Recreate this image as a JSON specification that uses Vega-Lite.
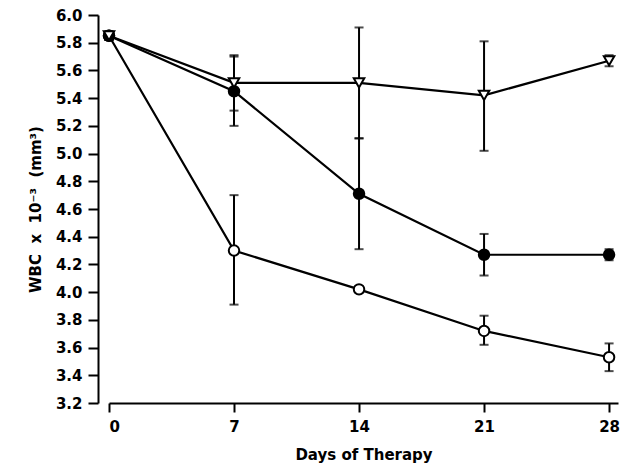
{
  "$schema": "https://vega.github.io/schema/vega-lite/v6.json",
  "width": 509,
  "height": 388,
  "autosize": "none",
  "padding": {"left": 109, "top": 15, "right": 7, "bottom": 64},
  "background": "white",
  "config": {"view": {"stroke": null}, "font": "DejaVu Sans"},
  "data": {"values": [
    {"day": 0, "group": "A", "mean": 5.85, "lo": 5.82, "hi": 5.88},
    {"day": 7, "group": "A", "mean": 5.51, "lo": 5.31, "hi": 5.71},
    {"day": 14, "group": "A", "mean": 5.51, "lo": 5.11, "hi": 5.91},
    {"day": 21, "group": "A", "mean": 5.42, "lo": 5.02, "hi": 5.81},
    {"day": 28, "group": "A", "mean": 5.67, "lo": 5.63, "hi": 5.71},
    {"day": 0, "group": "B", "mean": 5.85, "lo": 5.82, "hi": 5.88},
    {"day": 7, "group": "B", "mean": 5.45, "lo": 5.2, "hi": 5.7},
    {"day": 14, "group": "B", "mean": 4.71, "lo": 4.31, "hi": 5.11},
    {"day": 21, "group": "B", "mean": 4.27, "lo": 4.12, "hi": 4.42},
    {"day": 28, "group": "B", "mean": 4.27, "lo": 4.23, "hi": 4.31},
    {"day": 0, "group": "C", "mean": 5.85, "lo": 5.82, "hi": 5.88},
    {"day": 7, "group": "C", "mean": 4.3, "lo": 3.91, "hi": 4.7},
    {"day": 14, "group": "C", "mean": 4.02, "lo": 4.0, "hi": 4.04},
    {"day": 21, "group": "C", "mean": 3.72, "lo": 3.62, "hi": 3.83},
    {"day": 28, "group": "C", "mean": 3.53, "lo": 3.43, "hi": 3.63}
  ]},
  "encoding": {
    "x": {
      "field": "day", "type": "quantitative",
      "scale": {"domain": [0, 28.5], "nice": false},
      "axis": {
        "title": "Days of Therapy", "values": [0, 7, 14, 21, 28], "grid": false,
        "domainColor": "black", "domainWidth": 2, "tickColor": "black", "tickWidth": 2, "tickSize": 9,
        "labelFont": "DejaVu Sans", "labelFontWeight": "bold", "labelFontSize": 15, "labelColor": "black", "labelPadding": 7,
        "titleFont": "DejaVu Sans", "titleFontWeight": "bold", "titleFontSize": 15, "titleColor": "black", "titlePadding": 13
      }
    },
    "y": {
      "field": "mean", "type": "quantitative",
      "scale": {"domain": [3.2, 6.0], "nice": false, "zero": false},
      "axis": {
        "title": "WBC\u00a0\u00a0x\u00a0\u00a010⁻³\u00a0\u00a0(mm³)", "values": [3.2, 3.4, 3.6, 3.8, 4.0, 4.2, 4.4, 4.6, 4.8, 5.0, 5.2, 5.4, 5.6, 5.8, 6.0],
        "format": ".1f", "grid": false, "offset": 11, "labelOverlap": false,
        "domainColor": "black", "domainWidth": 2, "tickColor": "black", "tickWidth": 2, "tickSize": 10,
        "labelFont": "DejaVu Sans", "labelFontWeight": "bold", "labelFontSize": 15, "labelColor": "black", "labelPadding": 6,
        "titleFont": "DejaVu Sans", "titleFontWeight": "bold", "titleFontSize": 15, "titleColor": "black", "titlePadding": 12
      }
    }
  },
  "layer": [
    {
      "mark": {"type": "rule", "color": "black", "strokeWidth": 2},
      "encoding": {
        "y": {"field": "lo", "type": "quantitative"},
        "y2": {"field": "hi"}
      }
    },
    {
      "mark": {"type": "tick", "orient": "horizontal", "color": "black", "thickness": 2, "size": 9},
      "encoding": {"y": {"field": "lo", "type": "quantitative"}}
    },
    {
      "mark": {"type": "tick", "orient": "horizontal", "color": "black", "thickness": 2, "size": 9},
      "encoding": {"y": {"field": "hi", "type": "quantitative"}}
    },
    {
      "mark": {"type": "line", "color": "black", "strokeWidth": 2.2},
      "encoding": {"detail": {"field": "group"}}
    },
    {
      "mark": {"type": "point", "filled": false, "size": 110, "strokeWidth": 2, "opacity": 1, "color": "black"},
      "encoding": {
        "shape": {"field": "group", "type": "nominal", "scale": {"domain": ["A", "B", "C"], "range": ["triangle-down", "circle", "circle"]}, "legend": null},
        "fill": {"field": "group", "type": "nominal", "scale": {"domain": ["A", "B", "C"], "range": ["white", "black", "white"]}, "legend": null},
        "order": {"field": "group", "sort": "descending"}
      }
    }
  ]
}
